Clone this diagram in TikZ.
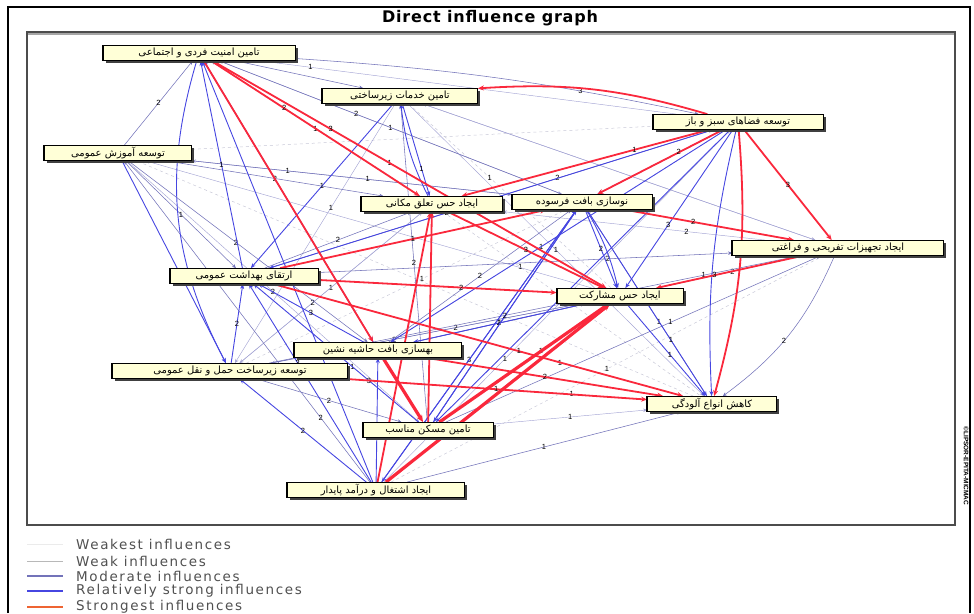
\documentclass[tikz,border=0pt]{standalone}
\usepackage{fontspec}
\setmainfont{Liberation Sans}
\newfontfamily\fa[Script=Arabic]{DejaVu Sans}
\newfontfamily\legfont[LetterSpace=12]{DejaVu Sans}
\newfontfamily\ttlfont[LetterSpace=5]{DejaVu Sans}
\TeXXeTstate=1
\usetikzlibrary{arrows.meta,shadows}
\pgfdeclarelayer{edges}
\pgfsetlayers{edges,main}
\definecolor{redE}{RGB}{250,40,60}
\definecolor{blueE}{RGB}{70,70,225}
\definecolor{modE}{RGB}{115,115,185}
\definecolor{weakE}{RGB}{165,165,212}
\definecolor{weakestE}{RGB}{200,200,215}
\definecolor{boxfill}{RGB}{255,255,215}
\definecolor{legtxt}{RGB}{80,80,80}
\definecolor{legred}{RGB}{238,100,50}
\tikzset{
 concept/.style={draw=black, line width=0.8pt, fill=boxfill, inner xsep=2pt, inner ysep=1pt,
   minimum height=15pt, font=\fa\fontsize{10}{11}\selectfont,
   drop shadow={shadow xshift=2.5pt, shadow yshift=-2.5pt, fill=black!75, opacity=1}},
 e5/.style={draw=redE, line width=1.8pt, -{Stealth[length=6pt,width=5pt]}},
 e5b/.style={draw=redE, line width=3.2pt, -{Stealth[length=7pt,width=6pt]}},
 e4/.style={draw=blueE, line width=0.9pt, -{Stealth[length=5pt,width=4pt]}},
 e3/.style={draw=modE, line width=0.55pt, -{Stealth[length=4pt,width=3.5pt]}},
 e2/.style={draw=weakE, line width=0.45pt, -{Stealth[length=4pt,width=3.5pt]}},
 e1/.style={draw=weakestE, line width=0.5pt, dashed},
 lbl/.style={font=\fontsize{7.5}{8}\selectfont, text=black, inner sep=1pt},
 legline/.style={line width=#1},
}
\begin{document}
\begin{tikzpicture}[x=1pt,y=-1pt]
\useasboundingbox (0,0) rectangle (974,613);
% frames
\draw[line width=2.5pt] (8,613) -- (8,7) -- (970,7) -- (970,613);
\draw[black!35, line width=1.5pt] (28,34) -- (956,34);
\draw[black!70, line width=1.1pt] (27,32) rectangle (955,525);
\node[font=\ttlfont\bfseries\fontsize{16}{18}\selectfont] (title) at (490,18) {Direct influence graph};
\node[rotate=-90, font=\bfseries\fontsize{6.5}{7}\selectfont] (copy) at (966,466) {©LIPSOR-EPITA-MICMAC};

% nodes
\node[concept, minimum width=192pt] (n1) at (199,53) {\beginR تامین امنیت فردی و اجتماعی\endR};
\node[concept, minimum width=155pt] (n2) at (400,96) {\beginR تامین خدمات زیرساختی\endR};
\node[concept, minimum width=170pt] (n3) at (738,122) {\beginR توسعه فضاهای سبز و باز\endR};
\node[concept, minimum width=147pt] (n4) at (118,153) {\beginR توسعه آموزش عمومی\endR};
\node[concept, minimum width=141pt] (n5) at (432,204) {\beginR ایجاد حس تعلق مکانی\endR};
\node[concept, minimum width=140pt] (n6) at (582,202) {\beginR نوسازی بافت فرسوده\endR};
\node[concept, minimum width=211pt] (n7) at (838,248) {\beginR ایجاد تجهیزات تفریحی و فراغتی\endR};
\node[concept, minimum width=148pt] (n8) at (244,276) {\beginR ارتقای بهداشت عمومی\endR};
\node[concept, minimum width=126pt] (n9) at (620,296) {\beginR ایجاد حس مشارکت\endR};
\node[concept, minimum width=167pt] (n10) at (378,350) {\beginR بهسازی بافت حاشیه نشین\endR};
\node[concept, minimum width=235pt] (n11) at (230,371) {\beginR توسعه زیرساخت حمل و نقل عمومی\endR};
\node[concept, minimum width=129pt] (n12) at (712,404) {\beginR کاهش انواع آلودگی\endR};
\node[concept, minimum width=130pt] (n13) at (428,430) {\beginR تامین مسکن مناسب\endR};
\node[concept, minimum width=177pt] (n14) at (376,490) {\beginR ایجاد اشتغال و درآمد پایدار\endR};
\foreach \n in {n1,n2,n3,n4,n5,n6,n7,n8,n9,n10,n11,n12,n13,n14}
  \draw[line width=1.6pt] (\n.north west) -- (\n.south west);

\begin{pgfonlayer}{edges}
% weakest
\foreach \a/\b/\l/\p in {n14/n7/1/.5, n4/n3//.5, n11/n6/1/.55, n13/n3//.5, n2/n9/1/.4,
  n10/n3/1/.45, n12/n4//.5, n8/n13/1/.6, n5/n12/1/.3, n9/n13/1/.4}
  \draw[e1] (\a) -- node[lbl,pos=\p]{\l} (\b);
% weak
\foreach \a/\b/\l/\p in {n3/n1/1/.88, n7/n2//.5, n7/n5/2/.3, n6/n4/1/.7, n9/n4//.5,
  n12/n8/1/.3, n2/n12/1/.5, n4/n13/2/.5, n14/n3/1/.35, n11/n5/1/.5, n10/n7/2/.82,
  n13/n12/1/.5, n2/n11/1/.4, n5/n11/2/.6, n12/n11/1/.25, n7/n10//.5, n9/n11/2/.6,
  n1/n6/1/.5, n2/n7//.5}
  \draw[e2] (\a) -- node[lbl,pos=\p]{\l} (\b);
% moderate
\foreach \a/\b/\l/\p in {n4/n1/2/.5, n4/n5/2/.5, n4/n8/1/.5, n4/n10/2/.45, n4/n6/1/.55,
  n8/n3/2/.65, n8/n7/2/.7, n11/n9/2/.6, n11/n7/1/.82, n13/n7/1/.6, n14/n12/1/.5,
  n14/n4/2/.2, n9/n1/1/.55, n6/n1/2/.6, n5/n1/1/.5, n13/n2/2/.5, n10/n6/2/.5,
  n12/n6/1/.4, n8/n5/2/.5, n11/n13/2/.5, n10/n9/1/.5, n1/n2//.5}
  \draw[e3] (\a) -- node[lbl,pos=\p]{\l} (\b);
\draw[e3] (n1) to[bend left=4] node[lbl,pos=.72]{3} (n3);
\draw[e3] (n7) to[bend left=15] node[lbl,pos=.55]{2} (n12);
% relatively strong
\foreach \a/\b/\l/\p in {n14/n1//.5, n14/n8/3/.6, n14/n11/2/.5, n14/n10//.5, n8/n1/1/.5,
  n1/n10//.5, n2/n5/1/.7, n2/n8/1/.5, n3/n6//.5, n3/n9/3/.6, n3/n10//.5, n3/n8/2/.6,
  n3/n13//.5, n6/n9/2/.5, n6/n14/3/.55, n6/n13//.5, n9/n10/2/.5, n9/n12/1/.55,
  n11/n8/2/.5, n10/n8/3/.5, n13/n8/3/.3, n6/n12/1/.7, n4/n11//.5, n10/n1//.5,
  n14/n6//.5, n13/n6/2/.5}
  \draw[e4] (\a) -- node[lbl,pos=\p]{\l} (\b);
\draw[e4] (n5) to[bend left=10] (n2);
\draw[e4] (n6) to[bend left=8] (n9);
\draw[e4] (n1) to[bend right=22] (n11);
\draw[e4] (n3) to[bend right=8] (n12);
% strongest
\foreach \a/\b/\l/\p in {n1/n5/2/.35, n1/n9/3/.3, n1/n10//.5, n3/n5/1/.3, n3/n6/2/.35,
  n3/n7/3/.5, n5/n9/3/.5, n8/n6/1/.5, n8/n12/1/.6, n11/n12/1/.5, n10/n12/2/.5,
  n13/n5//.5, n14/n5//.5, n7/n9/3/.6, n6/n7/2/.4, n8/n9/2/.6}
  \draw[e5] (\a) -- node[lbl,pos=\p]{\l} (\b);
\draw[e5] (n3) to[bend right=10] (n2);
\draw[e5] (n3) to[bend left=10] (n12);
\foreach \a/\b in {n14/n9, n13/n9, n10/n13}
  \draw[e5b] (\a) -- (\b);
\end{pgfonlayer}

% legend
\draw[legline=0.6pt, black!8] (27,544) -- (63,544);
\draw[legline=0.8pt, black!28] (27,561) -- (63,561);
\draw[legline=1.1pt, modE] (27,576) -- (63,576);
\draw[legline=1.8pt, blueE] (27,591) -- (63,591);
\draw[legline=2.4pt, legred] (27,607) -- (63,607);
\foreach \y/\t in {544/Weakest influences, 561/Weak influences, 576/Moderate influences,
  591/Relatively strong influences, 607/Strongest influences}
  \node[anchor=west, font=\legfont\fontsize{13.5}{14}\selectfont, text=legtxt, inner sep=0pt] at (76,\y) {\t};
\end{tikzpicture}
\end{document}
